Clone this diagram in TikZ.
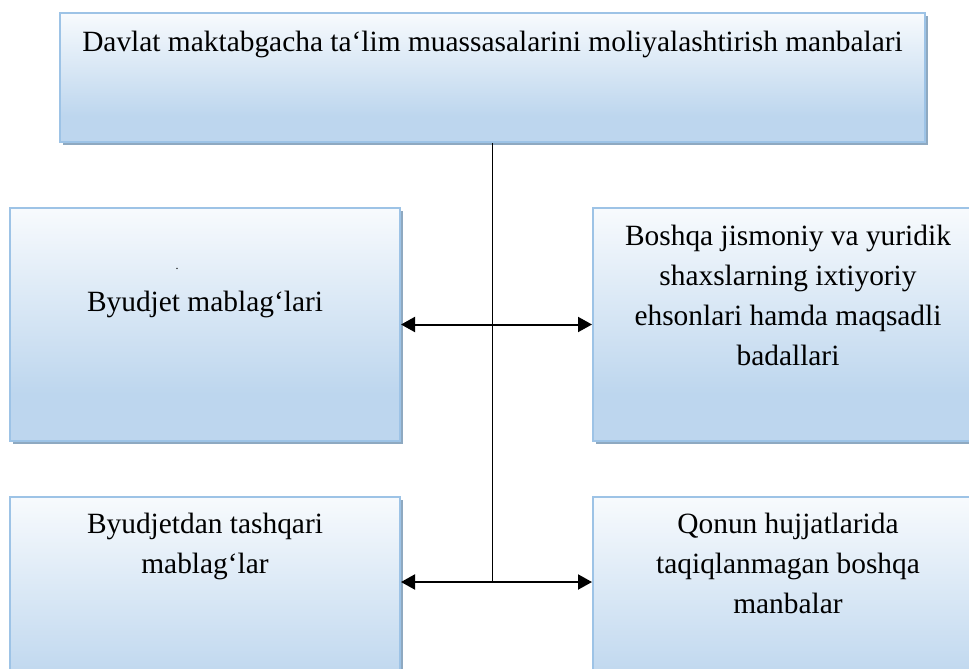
\documentclass[tikz,border=0pt]{standalone}
\usepackage{fontspec}
\setmainfont{Liberation Serif}
\usetikzlibrary{arrows.meta,positioning,shadows}
\definecolor{BoxBlue}{HTML}{BDD6EE}
\definecolor{BoxEdge}{HTML}{9DC3E6}
\definecolor{BoxShadow}{HTML}{8EA9C1}
\pgfdeclareverticalshading{boxfade}{100bp}{color(0bp)=(BoxBlue); color(35bp)=(BoxBlue);
  color(80bp)=(white); color(100bp)=(white)}

\begin{document}
\begin{tikzpicture}[
    x=0.5pt, y=-0.5pt,
    src/.style={
      draw=BoxEdge,
      line width=1pt,
      shading=boxfade,
      drop shadow={shadow xshift=1.5pt, shadow yshift=-1.5pt,
                   fill=BoxShadow, opacity=1},
      minimum width=#1,
      inner sep=0pt
    },
    src/.default=195pt,
    lbl/.style={
      anchor=north,
      inner sep=0pt,
      align=center,
      font=\fontsize{14.7}{20}\selectfont
    },
    link/.style={
      line width=1pt,
      {Triangle[length=7pt,width=7.5pt]}-{Triangle[length=7pt,width=7.5pt]}
    }
  ]
  \useasboundingbox (0,0) rectangle (969,669);
  \clip (0,0) rectangle (969,669);

  % Boxes
  \node[src=432.5pt, minimum height=64.5pt] (head)   at (492.5,77.5) {};
  \node[src, minimum height=116.5pt]        (budget) at (205,324.5)  {};
  \node[src, minimum height=116.5pt]        (donor)  at (788,324.5)  {};
  \node[src, minimum height=116.5pt]        (extra)  at (205,613.5)  {};
  \node[src, minimum height=116.5pt]        (other)  at (788,613.5)  {};

  % Texts
  \node[lbl, below=9.5pt of head.north]
    {Davlat maktabgacha ta\symbol{"60}lim muassasalarini moliyalashtirish manbalari};
  \node[lbl, below=42pt of budget.north]  {Byudjet mablag‘lari};
  \node[lbl, font=\fontsize{6}{6}\selectfont] at (177,268) {.};
  \node[lbl, below=9pt of donor.north]
    {Boshqa jismoniy va yuridik\\shaxslarning ixtiyoriy\\ehsonlari hamda maqsadli\\badallari};
  \node[lbl, below=8.5pt of extra.north]  {Byudjetdan tashqari\\mablag‘lar};
  \node[lbl, below=8.5pt of other.north]
    {Qonun hujjatlarida\\taqiqlanmagan boshqa\\manbalar};

  % Connectors
  \coordinate (fork) at (492.5,582);
  \draw[line width=0.6pt] (head.south) -- (fork);
  \draw[link] (budget.east) -- (donor.west);
  \draw[link] (extra.east |- fork) -- (other.west |- fork);

\end{tikzpicture}
\end{document}
